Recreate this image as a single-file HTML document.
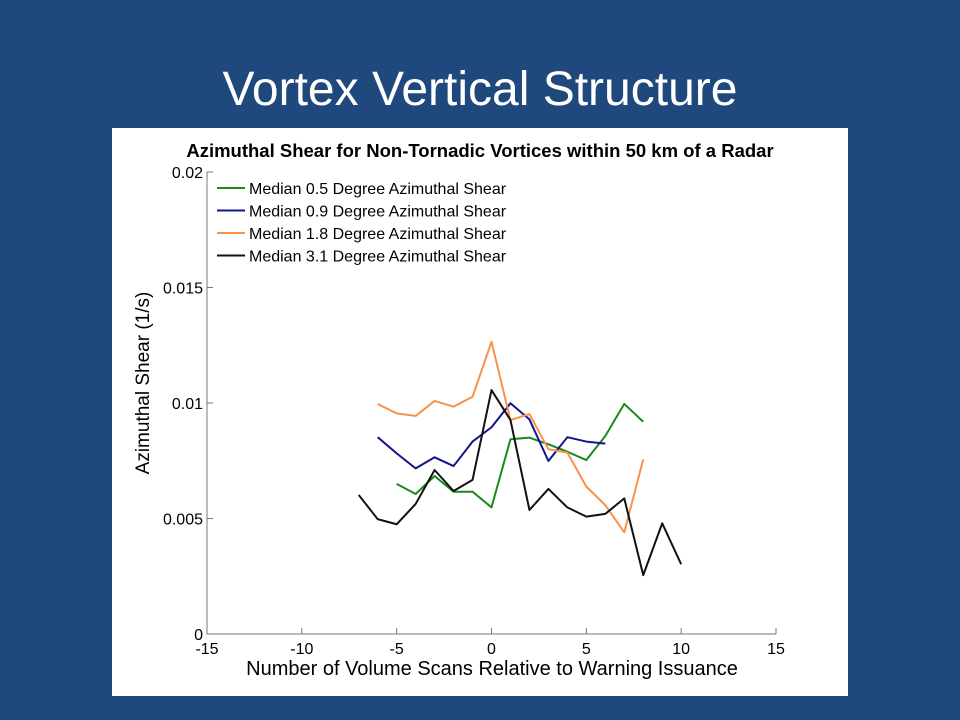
<!DOCTYPE html>
<html><head><meta charset="utf-8"><style>
body{margin:0;width:960px;height:720px;background:#1f497d;overflow:hidden;font-family:"Liberation Sans",sans-serif}
#title{position:absolute;left:0;width:960px;top:58px;text-align:center;color:#fff;font-size:48px;line-height:64px}
#fig{position:absolute;left:112px;top:128px;width:736px;height:568px;background:#fff}
</style></head><body>
<div id="title">Vortex Vertical Structure</div>
<div id="fig">
<svg id="chart" width="736" height="568" font-family="Liberation Sans, sans-serif"></svg>
</div>
<script>
const xTicks=[-15,-10,-5,0,5,10,15];
const yTicks=[0,0.005,0.01,0.015,0.02];
const yTickLabels=["0","0.005","0.01","0.015","0.02"];
const seriesNames=["Median 0.5 Degree Azimuthal Shear","Median 0.9 Degree Azimuthal Shear","Median 1.8 Degree Azimuthal Shear","Median 3.1 Degree Azimuthal Shear"];
const seriesColors=["#1a8a1a","#14148c","#f7924a","#111111"];
const xGreen=[-5,-4,-3,-2,-1,0,1,2,3,4,5,6,7,8];
const yGreen=[0.0065,0.00606,0.00684,0.00616,0.00616,0.00548,0.00843,0.0085,0.00821,0.00789,0.00753,0.00857,0.00996,0.00919];
const xBlue=[-6,-5,-4,-3,-2,-1,0,1,2,3,4,5,6];
const yBlue=[0.00852,0.00782,0.00717,0.00765,0.00727,0.00833,0.00895,0.00999,0.00929,0.00749,0.00852,0.00833,0.00824];
const xOrange=[-6,-5,-4,-3,-2,-1,0,1,2,3,4,5,6,7,8];
const yOrange=[0.00996,0.00955,0.00944,0.01009,0.00984,0.01027,0.01265,0.00926,0.00952,0.0080,0.00785,0.00638,0.00558,0.0044,0.00756];
const xBlack=[-7,-6,-5,-4,-3,-2,-1,0,1,2,3,4,5,6,7,8,9,10];
const yBlack=[0.00602,0.00497,0.00475,0.00563,0.0071,0.00619,0.00667,0.01056,0.00926,0.00537,0.00628,0.00548,0.00508,0.0052,0.00587,0.00255,0.00479,0.00302];
const L=95,R=664,T=44,B=506;
const xs=v=>L+(v+15)/30*(R-L);
const ys=v=>B-v/0.02*(B-T);
const svg=document.getElementById('chart');
const NS='http://www.w3.org/2000/svg';
function mk(tag,attrs,parent){const e=document.createElementNS(NS,tag);for(const k in attrs)e.setAttribute(k,attrs[k]);(parent||svg).appendChild(e);return e;}
let t=mk('text',{x:368,y:29,'text-anchor':'middle','font-size':'18.5','font-weight':'bold',fill:'#000'});


t.textContent='Azimuthal Shear for Non-Tornadic Vortices within 50 km of a Radar';
let ax=mk('path',{d:`M${L} ${T}V${B}H${R}`,stroke:'#777',fill:'none','stroke-width':1});


xTicks.forEach(v=>{
 mk('line',{x1:xs(v),x2:xs(v),y1:B,y2:B-6,stroke:'#777'});
 const e=mk('text',{x:xs(v),y:B+20,'text-anchor':'middle','font-size':'16',fill:'#000'});
 
 
 e.textContent=v;
});
yTicks.forEach((v,i)=>{
 mk('line',{x1:L,x2:L+6,y1:ys(v),y2:ys(v),stroke:'#777'});
 const e=mk('text',{x:L-4,y:ys(v)+6,'text-anchor':'end','font-size':'16',fill:'#000'});
 
 
 e.textContent=yTickLabels[i];
});
let xl=mk('text',{x:380,y:547,'text-anchor':'middle','font-size':'20',fill:'#000'});


xl.textContent='Number of Volume Scans Relative to Warning Issuance';
let yl=mk('text',{x:0,y:0,'text-anchor':'middle','font-size':'19',fill:'#000',transform:`translate(37,${(T+B)/2-20}) rotate(-90)`});


yl.textContent='Azimuthal Shear (1/s)';
const allX=[xGreen,xBlue,xOrange,xBlack],allY=[yGreen,yBlue,yOrange,yBlack];
const sNames=['series-0-5-degree','series-0-9-degree','series-1-8-degree','series-3-1-degree'];
allX.forEach((xa,i)=>{
 const p=mk('polyline',{points:xa.map((x,j)=>xs(x)+','+ys(allY[i][j])).join(' '),fill:'none',stroke:seriesColors[i],'stroke-width':2,'stroke-linejoin':'round'});
 
 
});
seriesNames.forEach((n,i)=>{
 const y=60+i*22.5;
 const g=mk('g',{});
 
 
 mk('line',{x1:105,x2:133,y1:y,y2:y,stroke:seriesColors[i],'stroke-width':2},g);
 const e=mk('text',{x:137,y:y+6,'font-size':'16',fill:'#000'},g);
 e.textContent=n;
});
</script>
</body></html>
